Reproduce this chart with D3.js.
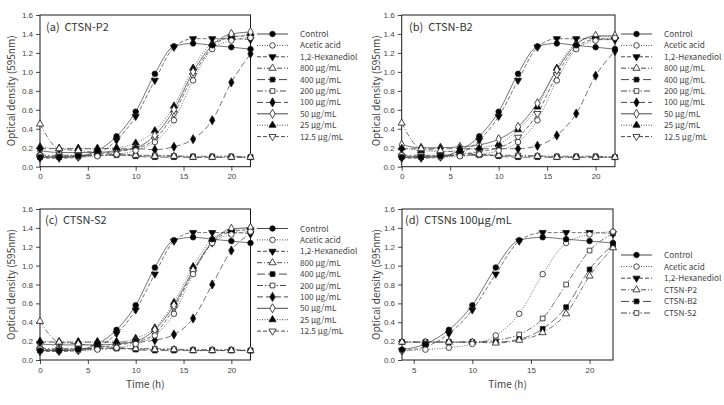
<!DOCTYPE html>
<html><head><meta charset="utf-8">
<script src="https://cdn.jsdelivr.net/npm/d3@7"></script>
<style>
html,body{margin:0;padding:0;background:#fff;}
svg{display:block;font-family:"Noto Sans CJK KR","Noto Sans",sans-serif;}
</style></head>
<body>
<svg id="c" width="724" height="405"></svg>
<script>
// ---------- data ----------
const timesFull = [0,2,4,6,8,10,12,14,16,18,20,22];
const timesD = [4,6,8,10,12,14,16,18,20,22];
const yTicks = [0,0.2,0.4,0.6,0.8,1.0,1.2,1.4,1.6];
const xTicksABC = [0,5,10,15,20];
const xTicksD = [5,10,15,20];

const control  = [0.10,0.10,0.11,0.17,0.32,0.58,0.98,1.27,1.30,1.28,1.26,1.24];
const acetic   = [0.12,0.10,0.10,0.11,0.13,0.17,0.26,0.49,0.91,1.24,1.33,1.36];
const hexanediol=[0.09,0.09,0.10,0.14,0.28,0.53,0.91,1.26,1.35,1.35,1.35,1.34];
const flat800a = [0.45,0.19,0.17,0.15,0.14,0.12,0.11,0.11,0.10,0.10,0.10,0.10];
const flat800b = [0.46,0.19,0.17,0.15,0.13,0.12,0.11,0.11,0.10,0.10,0.10,0.10];
const flat800c = [0.41,0.19,0.17,0.15,0.13,0.12,0.11,0.11,0.10,0.10,0.10,0.10];
const flat400  = [0.10,0.10,0.11,0.12,0.13,0.11,0.10,0.10,0.10,0.10,0.10,0.10];
const flat200  = [0.12,0.12,0.12,0.12,0.12,0.12,0.12,0.115,0.11,0.11,0.11,0.10];

const p2_100  = [0.19,0.19,0.19,0.19,0.19,0.19,0.18,0.21,0.29,0.49,0.89,1.19];
const p2_50   = [0.17,0.15,0.15,0.15,0.17,0.20,0.33,0.60,1.00,1.28,1.40,1.42];
const p2_25   = [0.21,0.19,0.19,0.19,0.20,0.25,0.38,0.64,1.04,1.30,1.36,1.40];
const p2_12   = [0.11,0.11,0.12,0.13,0.16,0.19,0.29,0.56,0.96,1.26,1.37,1.38];

const b2_100  = [0.19,0.19,0.19,0.19,0.19,0.19,0.19,0.22,0.33,0.56,0.96,1.22];
const b2_50   = [0.23,0.20,0.20,0.21,0.23,0.29,0.42,0.67,1.02,1.29,1.38,1.38];
const b2_25   = [0.20,0.17,0.16,0.17,0.20,0.24,0.39,0.63,1.04,1.30,1.37,1.37];
const b2_12   = [0.11,0.11,0.12,0.13,0.16,0.20,0.31,0.56,0.97,1.26,1.34,1.34];

const s2_100  = [0.19,0.19,0.19,0.19,0.19,0.19,0.21,0.27,0.44,0.80,1.16,1.34];
const s2_50   = [0.17,0.16,0.16,0.16,0.17,0.20,0.32,0.58,0.95,1.25,1.39,1.40];
const s2_25   = [0.20,0.19,0.19,0.19,0.19,0.23,0.34,0.61,0.99,1.28,1.37,1.40];
const s2_12   = [0.11,0.11,0.12,0.13,0.16,0.19,0.28,0.55,0.93,1.24,1.36,1.38];

const labelsABC = ["Control","Acetic acid","1,2-Hexanediol","800 µg/mL","400 µg/mL","200 µg/mL","100 µg/mL","50 µg/mL","25 µg/mL","12.5 µg/mL"];
const labelsD = ["Control","Acetic acid","1,2-Hexanediol","CTSN-P2","CTSN-B2","CTSN-S2"];
const titles = ["(a)  CTSN-P2","(b)  CTSN-B2","(c)  CTSN-S2","(d)  CTSNs 100µg/mL"];

// ---------- styles ----------
const st = {
  control:{sym:"circle",fill:"#000",dash:null},
  acetic:{sym:"circle",fill:"#fff",dash:"1,1.5"},
  hex:{sym:"tdown",fill:"#000",dash:"4,2"},
  s800:{sym:"tup",fill:"#fff",dash:"5,2,1,2"},
  s400:{sym:"square",fill:"#000",dash:"8,3"},
  s200:{sym:"square",fill:"#fff",dash:"6,2,1.5,2"},
  s100:{sym:"diamond",fill:"#000",dash:"6,3"},
  s50:{sym:"diamond",fill:"#fff",dash:null},
  s25:{sym:"tup",fill:"#000",dash:"1,1.5"},
  s12:{sym:"tdown",fill:"#fff",dash:"4,2"}
};
const stylesABC=[st.control,st.acetic,st.hex,st.s800,st.s400,st.s200,st.s100,st.s50,st.s25,st.s12];
const stylesD=[st.control,st.acetic,st.hex,st.s800,st.s400,st.s200];

const sl = a => a.slice(2);
const panels = [
  {x0:40,x1:250.5,y0:166.7,y1:15,xd:[0,22],xt:xTicksABC,times:timesFull,
   series:[control,acetic,hexanediol,flat800a,flat400,flat200,p2_100,p2_50,p2_25,p2_12],
   labels:labelsABC,styles:stylesABC,leg:{x:257,y:34,dy:11.4},title:titles[0],tx:46,ty:30.5,ylab:12,xlab:false},
  {x0:401.7,x1:615,y0:166.7,y1:15,xd:[0,22],xt:xTicksABC,times:timesFull,
   series:[control,acetic,hexanediol,flat800b,flat400,flat200,b2_100,b2_50,b2_25,b2_12],
   labels:labelsABC,styles:stylesABC,leg:{x:621,y:34,dy:11.4},title:titles[1],tx:409,ty:30.5,ylab:377,xlab:false},
  {x0:40,x1:250.5,y0:360,y1:209,xd:[0,22],xt:xTicksABC,times:timesFull,
   series:[control,acetic,hexanediol,flat800c,flat400,flat200,s2_100,s2_50,s2_25,s2_12],
   labels:labelsABC,styles:stylesABC,leg:{x:257,y:228.5,dy:11.4},title:titles[2],tx:45,ty:224,ylab:12,xlab:true},
  {x0:402,x1:613,y0:360,y1:209,xd:[4,22],xt:xTicksD,times:timesD,
   series:[sl(control),sl(acetic),sl(hexanediol),sl(p2_100),sl(b2_100),sl(s2_100)],
   labels:labelsD,styles:stylesD,leg:{x:621,y:255,dy:11.6},title:titles[3],tx:405,ty:224,ylab:377,xlab:true}
];

const svg = d3.select("#c");
const ink="#1a1a1a";

function symPath(name){
  const m={circle:[d3.symbolCircle,24],tup:[d3.symbolTriangle,22],tdown:[d3.symbolTriangle,22],
           square:[d3.symbolSquare,22],diamond:[d3.symbolDiamond,24]}[name];
  return d3.symbol().type(m[0]).size(m[1])();
}
function drawMarker(g,x,y,s){
  g.append("path").attr("d",symPath(s.sym))
   .attr("transform",`translate(${x},${y})`+(s.sym==="tdown"?" rotate(180)":""))
   .attr("fill",s.fill).attr("stroke",ink).attr("stroke-width",0.8);
}

panels.forEach(p=>{
  const x=d3.scaleLinear().domain(p.xd).range([p.x0,p.x1]);
  const y=d3.scaleLinear().domain([0,1.6]).range([p.y0,p.y1]);
  const g=svg.append("g");
  const ax=g.append("g").attr("transform",`translate(0,${p.y0})`)
    .call(d3.axisBottom(x).tickValues(p.xt).tickFormat(d3.format("d")).tickSize(4).tickPadding(3).tickSizeOuter(0));
  const ay=g.append("g").attr("transform",`translate(${p.x0},0)`)
    .call(d3.axisLeft(y).tickValues(yTicks).tickFormat(d3.format(".1f")).tickSize(4).tickPadding(3).tickSizeOuter(0));
  [ax,ay].forEach(a=>{
    a.select(".domain").remove();
    a.selectAll("line").attr("stroke",ink).attr("stroke-width",0.8);
    a.selectAll("text").attr("font-size","8px").attr("fill","#444").attr("font-family",null);
  });
  g.append("rect").attr("x",p.x0).attr("y",p.y1).attr("width",p.x1-p.x0).attr("height",p.y0-p.y1)
   .attr("fill","none").attr("stroke",ink).attr("stroke-width",1);
  const cid="clip"+Math.round(p.x0)+"_"+Math.round(p.y0);
  svg.append("clipPath").attr("id",cid).append("rect")
    .attr("x",p.x0-4).attr("y",p.y1).attr("width",p.x1-p.x0+8).attr("height",p.y0-p.y1);
  const pg=g.append("g").attr("clip-path",`url(#${cid})`);
  const line=d3.line().x((d,i)=>x(p.times[i])).y(d=>y(d)).curve(d3.curveMonotoneX);
  p.series.forEach((s,k)=>{
    const sty=p.styles[k];
    pg.append("path").attr("d",line(s)).attr("fill","none").attr("stroke","#444")
      .attr("stroke-width",0.75).attr("stroke-dasharray",sty.dash);
  });
  for(let k=p.series.length-1;k>=0;k--){
    p.series[k].forEach((v,i)=>drawMarker(g,x(p.times[i]),y(v),p.styles[k]));
  }
  g.append("text").attr("x",p.tx).attr("y",p.ty).attr("font-size","11px").attr("fill","#333")
   .style("white-space","pre").text(p.title);
  g.append("text").attr("transform",`translate(${p.ylab},${(p.y0+p.y1)/2}) rotate(-90)`)
   .attr("text-anchor","middle").attr("dominant-baseline","middle").attr("font-size","10px").attr("fill","#444")
   .text("Optical density (595nm)");
  if(p.xlab){
    g.append("text").attr("x",(p.x0+p.x1)/2).attr("y",p.y0+28).attr("text-anchor","middle")
     .attr("font-size","10px").attr("fill","#444").text("Time (h)");
  }
  p.labels.forEach((lab,k)=>{
    const sty=p.styles[k];
    const ly=p.leg.y+k*p.leg.dy;
    g.append("line").attr("x1",p.leg.x).attr("x2",p.leg.x+31).attr("y1",ly).attr("y2",ly)
     .attr("stroke","#333").attr("stroke-width",0.9).attr("stroke-dasharray",sty.dash);
    drawMarker(g,p.leg.x+15.5,ly,sty);
    g.append("text").attr("x",p.leg.x+43).attr("y",ly+3).attr("font-size","8.2px").attr("fill","#444").text(lab);
  });
});
</script>
</body></html>
